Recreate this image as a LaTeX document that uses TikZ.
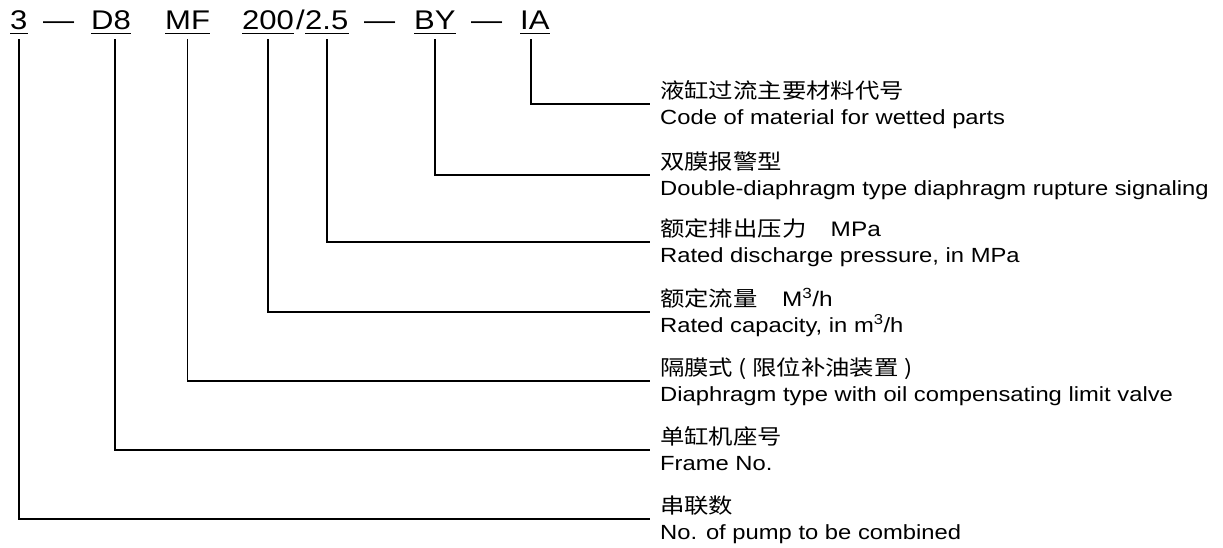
\documentclass[tikz,border=0pt]{standalone}
\usepackage{fontspec}
\setmainfont{Liberation Sans}
\newfontfamily\enfont[FakeStretch=1.16]{Liberation Sans}
\newfontfamily\codefont[FakeStretch=1.15]{Liberation Sans}
\newfontfamily\cjkfont[FakeStretch=1.16]{Noto Sans CJK SC}
\begin{document}
\begin{tikzpicture}[x=1pt,y=-1pt,
  code/.style={inner sep=0pt, anchor=base west, font=\codefont\fontsize{27}{30}\selectfont},
  cn/.style={inner sep=0pt, anchor=base west, font=\cjkfont\fontsize{21}{24}\selectfont},
  en/.style={inner sep=0pt, anchor=base west, font=\enfont\fontsize{20.5}{24}\selectfont},
  lead/.style={line width=1.5pt, black},
  uline/.style={line width=1.6pt, black}]
\useasboundingbox (0,0) rectangle (1223,547);

% code row
\node[code] (c3)   at (10,29)  {3};
\node[code] (dA)   at (43,29)  {—};
\node[code] (cD8)  at (91,29)  {D8};
\node[code] (cMF)  at (165,29) {MF};
\node[code] (c200) at (242,29) {200};
\node[code] (sl)   at (296,29) {/};
\node[code] (c25)  at (305,29) {2.5};
\node[code] (dB)   at (364,29) {—};
\node[code] (cBY)  at (414,29) {BY};
\node[code] (dC)   at (471,29) {—};
\node[code] (cIA)  at (520,29) {IA};

\foreach \n in {c3,cD8,cMF,c200,c25,cBY,cIA}
  \draw[uline] ([yshift=-4.4pt]\n.base west) -- ([yshift=-4.4pt]\n.base east);

% line ends
\coordinate (eIA)  at (650,104);
\coordinate (eBY)  at (650,175);
\coordinate (e25)  at (650,242);
\coordinate (e200) at (650,312);
\coordinate (eMF)  at (650,381);
\coordinate (eD8)  at (650,450);
\coordinate (e3)   at (650,519);

% leaders
\draw[lead] ([xshift=-4pt,yshift=-10pt]cIA.base) |- (eIA);
\draw[lead] ([yshift=-10pt]cBY.base) |- (eBY);
\draw[lead] ([yshift=-10pt]c25.base) |- (e25);
\draw[lead] ([yshift=-10pt]c200.base) |- (e200);
\draw[lead] ([yshift=-10pt]cMF.base) |- (eMF);
\draw[lead] ([xshift=4pt,yshift=-10pt]cD8.base) |- (eD8);
\draw[lead] ([yshift=-10pt]c3.base) |- (e3);

% labels
\node[cn] (tIA) at (660,98.5) {液缸过流主要材料代号};
\node[en] (sIA) at (660,124) {Code of material for wetted parts};
\node[cn] (tBY) at (660,169.5) {双膜报警型};
\node[en] (sBY) at (660,195) {Double-diaphragm type diaphragm rupture signaling};
\node[cn] (t25) at (660,236.5) {额定排出压力　{\enfont MPa}};
\node[en] (s25) at (660,262) {Rated discharge pressure, in MPa};
\node[cn] (t200) at (660,306.5) {额定流量　{\enfont M\textsuperscript{3}/h}};
\node[en] (s200) at (660,332) {Rated capacity, in m\textsuperscript{3}/h};
\node[cn] (tMF) at (660,375.5) {隔膜式 ( 限位补油装置 )};
\node[en] (sMF) at (660,401) {Diaphragm type with oil compensating limit valve};
\node[cn] (tD8) at (660,444.5) {单缸机座号};
\node[en] (sD8) at (660,470) {Frame No.};
\node[cn] (t3) at (660,513.5) {串联数};
\node[en] (s3) at (660,539) {No. of pump to be combined};
\end{tikzpicture}
\end{document}
